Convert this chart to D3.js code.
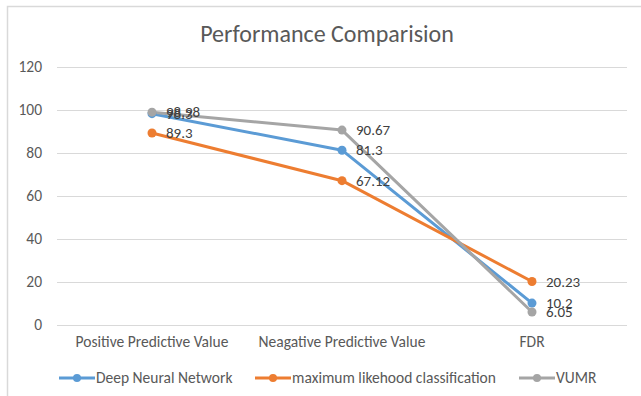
<!DOCTYPE html>
<html><head><meta charset="utf-8">
<script src="https://cdn.jsdelivr.net/npm/d3@7"></script>
<style>body{margin:0;background:#fff;} svg{display:block;}</style>
</head><body>
<script>
const categories = ["Positive Predictive Value", "Neagative Predictive Value", "FDR"];
const seriesNames = ["Deep Neural Network", "maximum likehood classification", "VUMR"];
const dnn = [98.3, 81.3, 10.2];
const mlc = [89.3, 67.12, 20.23];
const vumr = [98.98, 90.67, 6.05];
const yTicks = [0, 20, 40, 60, 80, 100, 120];
const colors = ["#5B9BD5", "#ED7D31", "#A5A5A5"];
const title = "Performance Comparision";

const series = [dnn, mlc, vumr].map((v, i) => ({name: seriesNames[i], values: v, color: colors[i]}));

const W = 641, H = 396;
const svg = d3.select("body").append("svg").attr("width", W).attr("height", H);
const font = "Carlito, Lato, 'Open Sans', sans-serif";

// chart frame
svg.append("rect").attr("x", 7.5).attr("y", 6.5).attr("width", W + 10).attr("height", H + 10)
  .attr("fill", "#fff").attr("stroke", "#d9d9d9").attr("stroke-width", 1.5);

const x = d3.scaleBand().domain(categories).range([57, 627]);
const y = d3.scaleLinear().domain([0, 120]).range([325, 67]);

// gridlines
svg.append("g").selectAll("line").data(yTicks).join("line")
  .attr("x1", 57).attr("x2", 627)
  .attr("y1", d => Math.round(y(d)) + 0.5).attr("y2", d => Math.round(y(d)) + 0.5)
  .attr("stroke", "#d9d9d9").attr("stroke-width", 1);

// y axis labels
const yAxis = svg.append("g").attr("transform", "translate(57,0)")
  .call(d3.axisLeft(y).tickValues(yTicks).tickSize(0).tickPadding(15));
yAxis.select(".domain").remove();
yAxis.selectAll("text").attr("font-family", font).attr("font-size", 15.5).attr("fill", "#595959");

// x axis labels
const xAxis = svg.append("g").attr("transform", "translate(0,325)")
  .call(d3.axisBottom(x).tickSize(0).tickPadding(11));
xAxis.select(".domain").remove();
xAxis.selectAll("text").attr("font-family", font).attr("font-size", 15.5).attr("fill", "#595959");

// title
svg.append("text").attr("x", 327).attr("y", 42).attr("text-anchor", "middle")
  .attr("font-family", font).attr("font-size", 24).attr("fill", "#595959").text(title);

const cx = c => x(c) + x.bandwidth() / 2;
const line = d3.line().x((d, i) => cx(categories[i])).y(d => y(d));

const g = svg.append("g");
series.forEach(s => {
  g.append("path").datum(s.values).attr("d", line).attr("fill", "none")
    .attr("stroke", s.color).attr("stroke-width", 3).attr("stroke-linejoin", "round");
});
series.forEach(s => {
  g.selectAll(null).data(s.values).join("circle")
    .attr("cx", (d, i) => cx(categories[i])).attr("cy", d => y(d)).attr("r", 4.5)
    .attr("fill", s.color);
});
series.forEach(s => {
  g.selectAll(null).data(s.values).join("text")
    .attr("x", (d, i) => cx(categories[i]) + 14).attr("y", d => y(d)).attr("dy", "0.35em")
    .attr("font-family", font).attr("font-size", 15).attr("fill", "#404040")
    .text(d => d);
});

// legend
const legendItems = [{x: 59, s: series[0]}, {x: 255, s: series[1]}, {x: 519, s: series[2]}];
const lg = svg.append("g");
legendItems.forEach(it => {
  lg.append("line").attr("x1", it.x).attr("x2", it.x + 36).attr("y1", 378).attr("y2", 378)
    .attr("stroke", it.s.color).attr("stroke-width", 3);
  lg.append("circle").attr("cx", it.x + 18).attr("cy", 378).attr("r", 4).attr("fill", it.s.color);
  lg.append("text").attr("x", it.x + 37).attr("y", 378).attr("dy", "0.35em")
    .attr("font-family", font).attr("font-size", 15.5).attr("fill", "#595959").text(it.s.name);
});
</script>
</body></html>
